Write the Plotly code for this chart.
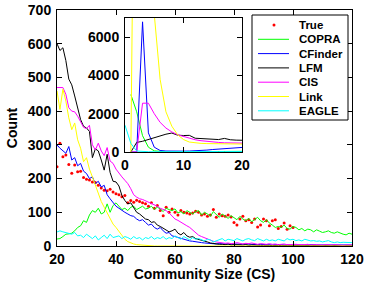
import plotly.graph_objects as go

# ---------------- data ----------------
CS = list(range(0, 121))  # community size 0..120

COPRA = [None,
    3000, 2100, 850, 250, 60, 20, 10, 8, 8, 8, 10, 10, 12, 12, 14, 15, 16, 18, 18,
    20, 22, 28, 35, 36, 38, 45, 55, 60, 75,
    70, 92, 105, 100, 112, 95, 100, 125, 100, 120,
    128, 118, 108, 112, 105, 115, 118, 108, 112, 118,
    110, 112, 118, 108, 115, 110, 102, 112, 108, 105,
    110, 98, 102, 95, 105, 100, 95, 102, 105, 92,
    100, 95, 88, 102, 92, 85, 95, 88, 82, 90,
    85, 78, 88, 80, 75, 82, 72, 80, 85, 75,
    70, 78, 68, 62, 55, 58, 55, 62, 52, 50,
    58, 55, 48, 52, 45, 50, 48, 42, 48, 44,
    40, 42, 45, 40, 38, 42, 38, 35, 33, 38, 35]

CFINDER = [None,
    0, 0, 6800, 1000, 250, 80, 50, 40, 40, 45, 50, 60, 80, 100, 130, 160, 190, 220, 260,
    300, 290, 282, 275, 295, 255, 262, 238, 245, 222,
    215, 200, 205, 185, 192, 175, 180, 152, 140, 128,
    118, 112, 105, 100, 95, 90, 88, 80, 75, 78,
    70, 62, 65, 55, 50, 55, 45, 38, 40, 30,
    28, 25, 22, 20, 18, 15, 14, 12, 12, 10,
    9, 8, 7, 8, 6, 7, 6, 5, 6, 5,
    6, 5, 4, 5, 6, 5, 4, 5, 4, 5,
    4, 5, 4, 3, 4, 5, 4, 3, 4, 3,
    4, 3, 4, 3, 3, 4, 3, 4, 3, 3,
    4, 3, 3, 4, 3, 3, 4, 3, 3, 4, 3]

LFM = [None,
    0, 500, 560, 650, 780, 860, 930, 990, 880, 860, 870, 720, 700, 690, 670, 650, 710, 640, 620,
    600, 580, 588, 550, 495, 478, 445, 410, 375, 355,
    350, 340, 262, 288, 282, 255, 225, 272, 218, 192,
    190, 178, 150, 135, 125, 128, 112, 100, 95, 88,
    80, 78, 70, 72, 62, 58, 52, 48, 42, 45,
    50, 38, 33, 40, 30, 26, 28, 22, 20, 17,
    14, 12, 9, 7, 6, 5, 5, 4, 6, 3,
    4, 3, 2, 3, 4, 2, 3, 2, 3, 2,
    2, 3, 2, 1, 2, 2, 1, 2, 1, 1,
    1, 1, 1, 1, 1, 1, 1, 1, 1, 1,
    1, 1, 1, 1, 1, 1, 1, 1, 1, 1, 1]

CIS = [None,
    0, 0, 2550, 2550, 2000, 1550, 1250, 1050, 900, 800, 720, 640, 590, 550, 520, 500, 480, 470, 470,
    470, 472, 470, 450, 410, 400, 398, 385, 370, 352,
    348, 358, 300, 285, 305, 282, 268, 292, 252, 245,
    228, 215, 205, 195, 185, 170, 152, 145, 140, 138,
    134, 131, 128, 124, 118, 112, 108, 105, 98, 88,
    80, 76, 70, 66, 60, 55, 48, 40, 32, 28,
    24, 22, 18, 14, 12, 10, 9, 8, 9, 7,
    8, 10, 8, 6, 8, 7, 9, 6, 5, 7,
    6, 5, 7, 5, 6, 4, 5, 6, 4, 5,
    4, 5, 4, 3, 4, 5, 3, 4, 3, 4,
    3, 4, 3, 3, 4, 3, 3, 2, 3, 3, 3]

LINK = [None,
    0, 30000, 20000, 12000, 7200, 3800, 2100, 1350, 900, 650, 520, 470, 450, 440, 440, 445, 450, 455, 460,
    460, 405, 465, 430, 380, 345, 365, 315, 290, 250,
    262, 228, 205, 180, 152, 132, 115, 98, 80, 65,
    55, 42, 30, 20, 13, 9, 6, 4, 3, 2,
    1, 1, 0, 0, 0, 0, 0, 0, 0, 0,
    0, 0, 0, 0, 0, 0, 0, 0, 0, 0,
    0, 0, 0, 0, 0, 0, 0, 0, 0, 0,
    0, 0, 0, 0, 0, 0, 0, 0, 0, 0,
    0, 0, 0, 0, 0, 0, 0, 0, 0, 0,
    0, 0, 0, 0, 0, 0, 0, 0, 0, 0,
    0, 0, 0, 0, 0, 0, 0, 0, 0, 0, 0]

EAGLE = [1400,
    450, 50, 20, 15, 12, 10, 10, 12, 12, 14, 15, 18, 20, 22, 25, 28, 30, 35, 38,
    42, 45, 42, 40, 38, 35, 40, 30, 32, 25,
    35, 28, 22, 30, 18, 25, 32, 22, 35, 25,
    28, 30, 22, 28, 25, 20, 28, 22, 25, 18,
    25, 22, 28, 20, 25, 22, 28, 20, 25, 22,
    30, 25, 20, 28, 22, 18, 25, 20, 22, 18,
    15, 20, 18, 12, 15, 18, 22, 15, 20, 18,
    16, 22, 18, 15, 20, 22, 18, 16, 22, 18,
    15, 20, 16, 18, 15, 20, 18, 15, 22, 18,
    20, 16, 18, 15, 20, 18, 15, 16, 14, 15,
    12, 14, 16, 12, 10, 12, 10, 11, 10, 9, 10]

TRUE_CS = list(range(20, 101))
TRUE = [235, 305, 265, 270, 242, 216, 240, 220, 222, 203,
        198, 196, 190, 188, 180, 172, 165, 164, 168, 160,
        155, 152, 146, 150, 128, 135, 130, 136, 132, 128,
        125, 118, 128, 112, 120, 105, 90, 115, 100, 110,
        100, 92, 105, 100, 98, 95, 98, 103, 100, 92,
        95, 88, 92, 108, 85, 95, 90, 88, 92, 86,
        70, 62, 80, 88, 75, 78, 70, 80, 56, 62,
        80, 75, 60, 75, 78, 52, 58, 68, 50, 60, 55]

NAMES = ["True", "COPRA", "CFinder", "LFM", "CIS", "Link", "EAGLE"]
COLORS = ["#ff0000", "#00ff00", "#0000ff", "#000000", "#ff00ff", "#ffff00", "#00ffff"]

MAIN_XTICKS = [20, 40, 60, 80, 100, 120]
MAIN_YTICKS = [0, 100, 200, 300, 400, 500, 600, 700]
INSET_XTICKS = [0, 10, 20]
INSET_YTICKS = [0, 2000, 4000, 6000]

# ---------------- figure ----------------
W, H = 366, 282
ML, MR, MT, MB = 57, 14, 10, 36
PW, PH = W - ML - MR, H - MT - MB


def px_x(p):
    return (p - ML) / PW


def px_y(p):
    return (H - MB - p) / PH


FONT = "Liberation Sans, Arial, sans-serif"
tickfont = dict(family=FONT, size=14, color="black", weight="bold")

fig = go.Figure()

series = [COPRA, CFINDER, LFM, CIS, LINK, EAGLE]

# main plot
fig.add_trace(go.Scatter(x=TRUE_CS, y=TRUE, mode="markers", name=NAMES[0],
                         marker=dict(color=COLORS[0], size=3), showlegend=False,
                         xaxis="x", yaxis="y"))
for name, col, ys in zip(NAMES[1:], COLORS[1:], series):
    fig.add_trace(go.Scatter(x=CS, y=ys, mode="lines", name=name,
                             line=dict(color=col, width=1), showlegend=False,
                             xaxis="x", yaxis="y", connectgaps=False))

# inset
for name, col, ys in zip(NAMES[1:], COLORS[1:], series):
    fig.add_trace(go.Scatter(x=CS, y=ys, mode="lines", name=name,
                             line=dict(color=col, width=1), showlegend=False,
                             xaxis="x2", yaxis="y2", connectgaps=False))

axis_common = dict(showline=True, linecolor="black", linewidth=1, mirror="ticks",
                   ticks="inside", ticklen=5, tickcolor="black", showgrid=False,
                   zeroline=False, tickfont=tickfont, automargin=False)

fig.update_layout(
    template="none",
    width=W, height=H, autosize=False,
    margin=dict(l=ML, r=MR, t=MT, b=MB, pad=0, autoexpand=False),
    paper_bgcolor="white", plot_bgcolor="white",
    showlegend=False,
    xaxis=dict(domain=[0, 1], range=[20, 120], tickvals=MAIN_XTICKS, ticklabelstandoff=0,
               title=dict(text="Community Size (CS)", standoff=5,
                          font=dict(family=FONT, size=14, color="black", weight="bold")),
               anchor="y", **axis_common),
    yaxis=dict(domain=[0, 1], range=[0, 700], tickvals=MAIN_YTICKS, ticklabelstandoff=2,
               title=dict(text="Count", standoff=6,
                          font=dict(family=FONT, size=14, color="black", weight="bold")),
               anchor="x", **axis_common),
    xaxis2=dict(domain=[px_x(125), px_x(242)], range=[0, 20], tickvals=INSET_XTICKS,
                ticklabelstandoff=0, anchor="y2", **axis_common),
    yaxis2=dict(domain=[px_y(152), px_y(18)], range=[0, 7000], tickvals=INSET_YTICKS,
                ticklabelstandoff=2, anchor="x2", **axis_common),
)

shapes = []
# white background of the inset, drawn in the inset subplot below its traces
shapes.append(dict(type="rect", xref="x2", yref="y2", x0=0, x1=20, y0=0, y1=7000,
                   fillcolor="white", line=dict(width=0), layer="below"))

# legend box
LX0, LX1, LY0, LY1 = 252, 348, 15, 120
shapes.append(dict(type="rect", xref="paper", yref="paper",
                   x0=px_x(LX0), x1=px_x(LX1), y0=px_y(LY1), y1=px_y(LY0),
                   fillcolor="white", line=dict(color="black", width=1), layer="above"))
annotations = []
row_y = [25 + i * 14.3 for i in range(len(NAMES))]
for i, (name, col) in enumerate(zip(NAMES, COLORS)):
    yy = px_y(row_y[i])
    if i == 0:
        shapes.append(dict(type="circle", xref="paper", yref="paper",
                           x0=px_x(272.5), x1=px_x(275.5), y0=px_y(row_y[i] + 1.5),
                           y1=px_y(row_y[i] - 1.5), fillcolor=col, line=dict(width=0),
                           layer="above"))
    else:
        shapes.append(dict(type="line", xref="paper", yref="paper",
                           x0=px_x(258), x1=px_x(289), y0=yy, y1=yy,
                           line=dict(color=col, width=1), layer="above"))
    annotations.append(dict(xref="paper", yref="paper", x=px_x(297), y=yy,
                            text=name, showarrow=False, xanchor="left", yanchor="middle",
                            font=dict(family=FONT, size=11.5, color="black", weight="bold")))

fig.update_layout(shapes=shapes, annotations=annotations)

fig.write_html("out.html",
               config={"displayModeBar": False},
               post_script="document.documentElement.style.margin='0';"
                           "document.body.style.margin='0';"
                           "document.body.style.overflow='hidden';")
